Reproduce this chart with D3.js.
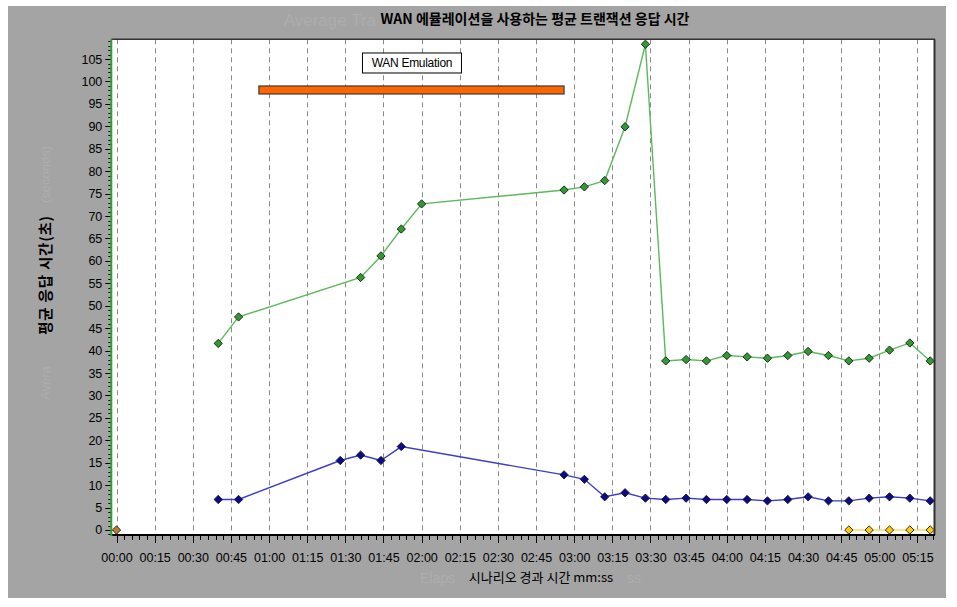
<!DOCTYPE html>
<html><head><meta charset="utf-8">
<script src="https://cdn.jsdelivr.net/npm/d3@7"></script>
<style>
html,body{margin:0;padding:0;background:#fff;}
svg{display:block;}
text{font-family:"Liberation Sans",Arial,sans-serif;}
.kr{font-family:"Noto Sans CJK KR","Liberation Sans",sans-serif;}
</style></head>
<body><svg id="c" width="957" height="607"></svg>
<script>
// ---- data ----
const title = "WAN 에뮬레이션을 사용하는 평균 트랜잭션 응답 시간";
const xTitle = "시나리오 경과 시간 mm:ss";
const yTitle = "평균 응답 시간(초)";
// faint fragments of the underlying English titles that show around the Korean ones
const ghostTitleLeft = "Average Tra";
const ghostXLeft = "Elaps";
const ghostXRight = "ss";
const ghostYTop = "(seconds)";
const ghostYBottom = "Avera";

const xTickSeconds = [0,15,30,45,60,75,90,105,120,135,150,165,180,195,210,225,240,255,270,285,300,315];
const yTickValues = [0,5,10,15,20,25,30,35,40,45,50,55,60,65,70,75,80,85,90,95,100,105];

const greenTimes  = [40,48,96,104,112,120,176,184,192,200,208,216,224,232,240,248,256,264,272,280,288,296,304,312,320];
const greenValues = [41.6,47.5,56.3,61.1,67.1,72.7,75.8,76.5,77.9,89.9,108.3,37.7,38.0,37.7,38.9,38.6,38.3,38.9,39.8,38.9,37.7,38.3,40.1,41.7,37.7];

const blueTimes  = [40,48,88,96,104,112,176,184,192,200,208,216,224,232,240,248,256,264,272,280,288,296,304,312,320];
const blueValues = [6.8,6.8,15.5,16.7,15.5,18.6,12.3,11.3,7.4,8.3,7.1,6.8,7.1,6.8,6.8,6.8,6.5,6.8,7.4,6.5,6.5,7.1,7.4,7.1,6.5];

const yellowTimes  = [288,296,304,312,320];
const yellowValues = [0,0,0,0,0];

const brownTimes  = [0];
const brownValues = [0];

const emulationLabel = "WAN Emulation";
const emulationStart = 56, emulationEnd = 176, emulationLevel = 98.1;

// ---- layout ----
const svg = d3.select("#c");
svg.append("rect").attr("x",8).attr("y",6).attr("width",938).attr("height",592).attr("fill","#a4a4a4");

const x = d3.scaleLinear().domain([-2.05, 321.5]).range([111.3, 934]);
const y = d3.scaleLinear().domain([-1.115, 109.4]).range([535, 39.3]);

// ghost fragments
const ghost = "#adadad";
svg.append("text").attr("x",376).attr("y",26).attr("text-anchor","end")
  .attr("font-size",17).attr("fill",ghost).text(ghostTitleLeft);
svg.append("text").attr("x",455).attr("y",583).attr("text-anchor","end")
  .attr("font-size",14).attr("fill",ghost).text(ghostXLeft);
svg.append("text").attr("x",627).attr("y",583).attr("text-anchor","start")
  .attr("font-size",14).attr("fill",ghost).text(ghostXRight);
svg.append("text").attr("transform","translate(50,203) rotate(-90)").attr("text-anchor","start")
  .attr("font-size",13).attr("fill",ghost).text(ghostYTop);
svg.append("text").attr("transform","translate(50,400) rotate(-90)").attr("text-anchor","start")
  .attr("font-size",13).attr("fill",ghost).text(ghostYBottom);

// plot area
svg.append("rect").attr("x",x.range()[0]).attr("y",y.range()[1])
  .attr("width",x.range()[1]-x.range()[0]).attr("height",y.range()[0]-y.range()[1]).attr("fill","#fff");

// grid lines
svg.append("g").selectAll("line").data(xTickSeconds).join("line")
  .attr("x1",d=>Math.round(x(d))+0.5).attr("x2",d=>Math.round(x(d))+0.5)
  .attr("y1",y.range()[1]).attr("y2",y.range()[0])
  .attr("stroke","#8a8a8a").attr("stroke-width",1).attr("stroke-dasharray","5,4");

// borders top/right
svg.append("line").attr("x1",x.range()[0]).attr("x2",x.range()[1]+1).attr("y1",y.range()[1]).attr("y2",y.range()[1])
  .attr("stroke","#333").attr("stroke-width",1.5);
svg.append("line").attr("x1",x.range()[1]+0.5).attr("x2",x.range()[1]+0.5).attr("y1",y.range()[1]).attr("y2",y.range()[0])
  .attr("stroke","#333").attr("stroke-width",2);

// x axis
const fmt = s => String(Math.floor(s/60)).padStart(2,"0")+":"+String(s%60).padStart(2,"0");
const xMinor = d3.range(0, 322, 3);
svg.append("g").selectAll("line").data(xMinor).join("line")
  .attr("x1",d=>Math.round(x(d))+0.5).attr("x2",d=>Math.round(x(d))+0.5)
  .attr("y1",y.range()[0]).attr("y2",d=> d%15===0 ? y.range()[0]+8 : y.range()[0]+5)
  .attr("stroke","#000").attr("stroke-width",1);
const xAxis = d3.axisBottom(x).tickValues(xTickSeconds).tickFormat(fmt).tickSize(0).tickPadding(18);
const gx = svg.append("g").attr("transform",`translate(0,${y.range()[0]})`).call(xAxis);
gx.select(".domain").remove();
gx.selectAll("text").attr("font-size",12.5).attr("fill","#000").attr("font-family","'Liberation Sans',Arial,sans-serif");
svg.append("line").attr("x1",x.range()[0]).attr("x2",x.range()[1]+1).attr("y1",y.range()[0]).attr("y2",y.range()[0])
  .attr("stroke","#000").attr("stroke-width",2);

// y axis
const yMinor = d3.range(-1, 110, 1);
svg.append("g").selectAll("line").data(yMinor.filter(v=>y(v)>=y.range()[1] && y(v)<=y.range()[0])).join("line")
  .attr("y1",d=>Math.round(y(d))+0.5).attr("y2",d=>Math.round(y(d))+0.5)
  .attr("x1",d=> d%5===0 ? x.range()[0]-6 : x.range()[0]-3).attr("x2",x.range()[0])
  .attr("stroke","#000").attr("stroke-width",1);
const yAxis = d3.axisLeft(y).tickValues(yTickValues).tickSize(0).tickPadding(9);
const gy = svg.append("g").attr("transform",`translate(${x.range()[0]},0)`).call(yAxis);
gy.select(".domain").remove();
gy.selectAll("text").attr("font-size",12.5).attr("fill","#000").attr("font-family","'Liberation Sans',Arial,sans-serif");
svg.append("line").attr("x1",x.range()[0]).attr("x2",x.range()[0]).attr("y1",y.range()[1]).attr("y2",y.range()[0]+1)
  .attr("stroke","#2aa52a").attr("stroke-width",2);

// titles
svg.append("text").attr("class","kr").attr("x",535).attr("y",24).attr("text-anchor","middle")
  .attr("font-size",14).attr("font-weight","bold").attr("fill","#000").text(title);
svg.append("text").attr("class","kr").attr("x",541).attr("y",582).attr("text-anchor","middle")
  .attr("font-size",13).attr("fill","#000").text(xTitle);
svg.append("text").attr("class","kr").attr("transform","translate(51,275) rotate(-90)").attr("text-anchor","middle")
  .attr("font-size",14.5).attr("font-weight","bold").attr("letter-spacing","0.8").attr("fill","#000").text(yTitle);

// emulation bar
const barY = y(emulationLevel);
svg.append("rect").attr("x",x(emulationStart)).attr("y",barY-4).attr("width",x(emulationEnd)-x(emulationStart)).attr("height",8)
  .attr("fill","#ff6600").attr("stroke","#3a3a3a").attr("stroke-width",1.2);
const midX = x((emulationStart+emulationEnd)/2);
svg.append("rect").attr("x",midX-49).attr("y",barY-37).attr("width",99).attr("height",20)
  .attr("fill","#fff").attr("stroke","#000").attr("stroke-width",1);
svg.append("text").attr("x",midX+0.5).attr("y",barY-22.5).attr("text-anchor","middle")
  .attr("font-size",12).attr("fill","#000").attr("letter-spacing","-0.3").text(emulationLabel);

// series
function series(times, values, lineColor, fill, lw){
  const pts = times.map((t,i)=>[x(t), y(values[i])]);
  if (pts.length>1) svg.append("path").attr("d", d3.line()(pts)).attr("fill","none")
    .attr("stroke",lineColor).attr("stroke-width",lw);
  svg.append("g").selectAll("path").data(pts).join("path")
    .attr("d", d3.symbol().type(d3.symbolDiamond2).size(44))
    .attr("transform", d=>`translate(${d[0]},${d[1]})`)
    .attr("fill",fill).attr("stroke","#1a1a1a").attr("stroke-width",0.9);
}
series(greenTimes, greenValues, "#5cba5c", "#2f9a2f", 1.4);
series(blueTimes, blueValues, "#3b3bd0", "#0a0a8c", 1.4);
series(yellowTimes, yellowValues, "#ffd866", "#ffc90e", 1.6);
series(brownTimes, brownValues, "#b06a2a", "#c07a38", 1.4);
</script></body></html>
